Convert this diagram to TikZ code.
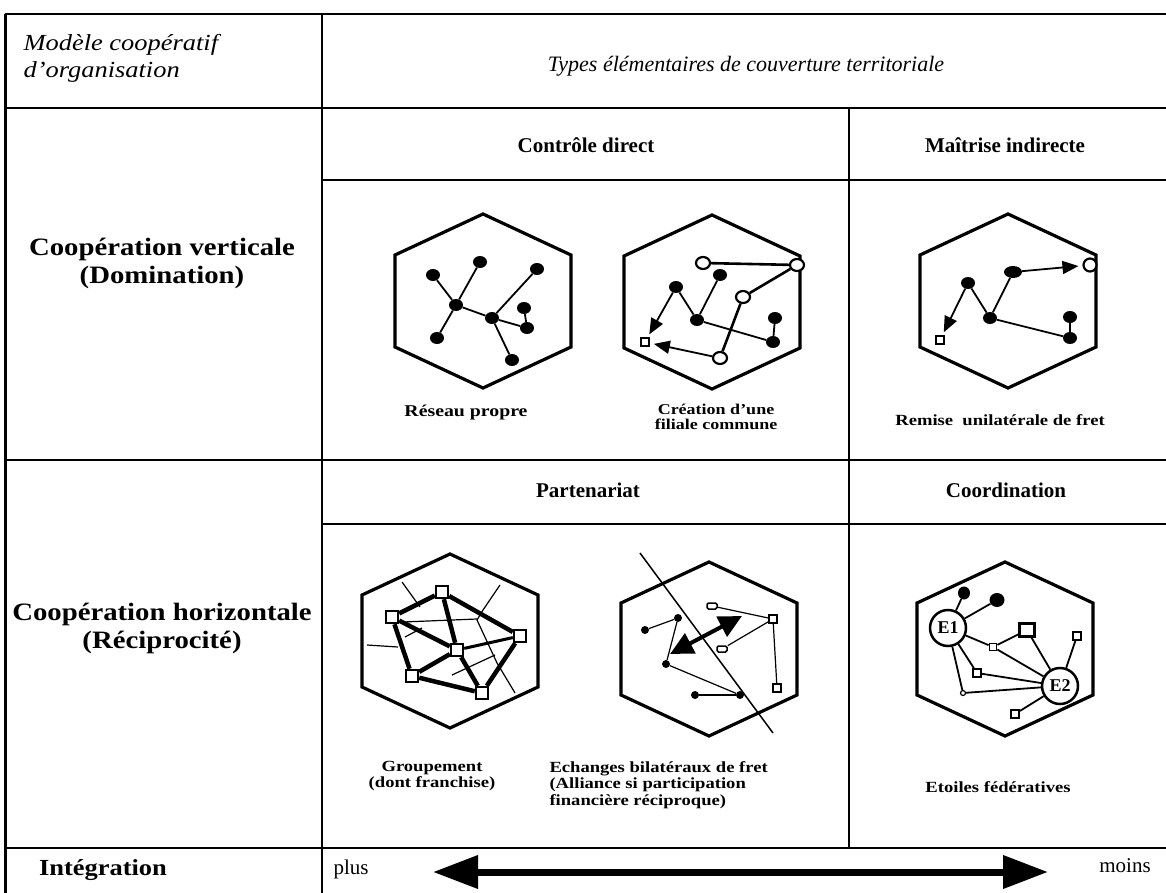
\documentclass[tikz,border=0pt]{standalone}
\usepackage{fontspec}
\setmainfont{Liberation Serif}
\newfontfamily\widefont[FakeStretch=1.15, Ligatures=TeX]{Liberation Serif}
\newfontfamily\labfont[FakeStretch=1.2, Ligatures=TeX]{Liberation Serif}
\usetikzlibrary{shapes.geometric,arrows.meta}
\newcommand\hexat[2]{\draw[hexline] (#1,#2) ++(0,-87) -- ++(88,41) -- ++(0,92) -- ++(-88,41) -- ++(-88,-41) -- ++(0,-92) -- cycle;}
\begin{document}
\begin{tikzpicture}[x=1pt,y=-1pt,
  grid/.style={line width=2pt},
  hexline/.style={line width=3.2pt, line join=miter},
  edge/.style={line width=1.8pt},
  oedge/.style={line width=2.6pt},
  fatedge/.style={line width=4.5pt},
  thinedge/.style={line width=1.2pt},
  dot/.style={ellipse, fill=black, minimum width=14pt, minimum height=12pt, inner sep=0pt},
  sdot/.style={circle, fill=black, minimum size=8pt, inner sep=0pt},
  odot/.style={ellipse, draw, line width=2.2pt, fill=white, minimum width=14pt, minimum height=12pt, inner sep=0pt},
  sqr/.style={rectangle, draw, line width=1.8pt, fill=white, minimum size=8pt, inner sep=0pt},
  msqr/.style={rectangle, draw, line width=2.4pt, fill=white, minimum size=12pt, inner sep=0pt},
  bsqr/.style={rectangle, draw, line width=2.5pt, fill=white, minimum width=15pt, minimum height=13pt, inner sep=0pt},
  orect/.style={rectangle, rounded corners=1.5pt, draw, line width=1.5pt, fill=white, minimum width=10pt, minimum height=6pt, inner sep=0pt},
  ecircle/.style={circle, draw, line width=2.5pt, fill=white, minimum size=36pt, inner sep=0pt, font=\fontsize{18}{18}\selectfont\bfseries},
  arr/.style={edge, -{Triangle[length=16pt,width=13pt]}},
  head/.style={font=\fontsize{21}{25}\selectfont\bfseries},
  rowhead/.style={font=\widefont\fontsize{25}{28}\selectfont\bfseries, align=center},
  ital/.style={font=\fontsize{22}{27}\selectfont\itshape},
  lab/.style={font=\labfont\fontsize{15.5}{16.5}\selectfont\bfseries, align=center},
]
\useasboundingbox (0,0) rectangle (1166,893);
\fill[white] (0,0) rectangle (1166,893);
% grid
\draw[grid] (5,14) -- (1166,14);
\draw[line width=3pt] (5,14) -- (5,893);
\draw[grid] (322,14) -- (322,893);
\draw[grid] (5,108) -- (1166,108);
\draw[grid] (322,180) -- (1166,180);
\draw[grid] (5,460) -- (1166,460);
\draw[grid] (322,524) -- (1166,524);
\draw[grid] (5,848) -- (1166,848);
\draw[grid] (849,108) -- (849,848);
% headers
\node[font=\widefont\fontsize{23}{27}\selectfont\itshape, align=left, anchor=west] (tmod) at (20,58) {Modèle coopératif\\d'organisation};
\node[ital] (ttypes) at (746,66) {Types élémentaires de couverture territoriale};
\node[head] (tcd) at (586,145) {Contrôle direct};
\node[head] (tmi) at (1005,145) {Maîtrise indirecte};
\node[head] (tpa) at (588,490) {Partenariat};
\node[head] (tco) at (1006,490) {Coordination};
\node[rowhead] (tcv) at (162,263) {Coopération verticale\\(Domination)};
\node[rowhead] (tch) at (162,628) {Coopération horizontale\\(Réciprocité)};
\node[rowhead, font=\widefont\fontsize{23}{28}\selectfont\bfseries] (tint) at (103,870) {Intégration};
\node[font=\fontsize{21}{25}\selectfont] (tplus) at (351,869) {plus};
\node[font=\fontsize{21}{25}\selectfont] (tmoins) at (1125,866) {moins};
% bottom arrow
\coordinate (aL) at (433,872);
\coordinate (aR) at (1048,872);
\draw[line width=7pt, {Triangle[length=45pt,width=32pt]}-{Triangle[length=45pt,width=32pt]}] (aL) -- (aR);
% ---------- hex 1: Reseau propre
\hexat{483}{301}
\node[dot] (a1) at (433,275) {};
\node[dot] (b1) at (480,262) {};
\node[dot] (c1) at (537,269) {};
\node[dot] (h1) at (456,305) {};
\node[dot] (h2) at (492,318) {};
\node[dot] (d1) at (524,308) {};
\node[dot] (e1) at (527,328) {};
\node[dot] (f1) at (437,338) {};
\node[dot] (g1) at (512,360) {};
\draw[edge] (a1) -- (h1); \draw[edge] (b1) -- (h1); \draw[edge] (h1) -- (f1);
\draw[edge] (h1) -- (h2); \draw[edge] (h2) -- (c1); \draw[edge] (h2) -- (e1);
\draw[edge] (h2) -- (g1); \draw[edge] (d1) -- (e1);
\node[lab, font=\labfont\fontsize{16.5}{17}\selectfont\bfseries] (l1) at (466,413) {Réseau propre};
% ---------- hex 2: filiale commune
\hexat{712}{302}
\node[odot] (o1) at (703,263) {};
\node[odot] (o2) at (797,265) {};
\node[dot] (f21) at (720,275) {};
\node[dot] (f22) at (676,287) {};
\node[odot] (o3) at (743,297) {};
\node[dot] (h21) at (697,320) {};
\node[dot] (f23) at (775,318) {};
\node[dot] (f24) at (773,342) {};
\node[odot] (o4) at (720,358) {};
\node[sqr] (sq2) at (645,342) {};
\draw[oedge] (o1) -- (o2); \draw[oedge] (o2) -- (o3); \draw[oedge] (o3) -- (o4);
\draw[edge] (f21) -- (h21); \draw[edge] (f22) -- (h21); \draw[edge] (h21) -- (f24);
\draw[edge] (f23) -- (f24);
\draw[arr, shorten >=3pt] (f22) -- (sq2);
\draw[arr, shorten >=4pt] (o4) -- (sq2);
\node[lab, font=\labfont\fontsize{15}{14.5}\selectfont\bfseries] (l2) at (716,417) {Création d'une\\filiale commune};
% ---------- hex 3: remise unilaterale
\hexat{1008}{301}
\node[dot] (a3) at (968,283) {};
\node[dot, minimum width=18pt] (b3) at (1013,272) {};
\node[odot, minimum width=13pt, minimum height=13pt] (c3) at (1090,265) {};
\node[dot] (h3) at (990,318) {};
\node[dot] (d3) at (1070,317) {};
\node[dot] (e3) at (1070,338) {};
\node[sqr] (sq3) at (940,340) {};
\draw[edge] (a3) -- (h3); \draw[edge] (b3) -- (h3); \draw[edge] (h3) -- (e3);
\draw[edge] (d3) -- (e3);
\draw[arr, shorten >=4pt] (b3) -- (c3);
\draw[arr, shorten >=3pt] (a3) -- (sq3);
\node[lab] (l3) at (1000,420) {Remise\ \ unilatérale de fret};
% ---------- hex 4: groupement
\hexat{450}{641}
\draw[thinedge] (402,582) -- (420,607);
\draw[thinedge] (500,585) -- (483,610) -- (477,620) -- (497,663) -- (515,693);
\draw[thinedge] (403,622) -- (477,619);
\draw[thinedge] (367,645) -- (398,647);
\draw[thinedge] (405,637) -- (422,628);
\draw[thinedge] (452,675) -- (495,655);
\node[msqr] (s1) at (442,592) {};
\node[msqr] (s2) at (392,617) {};
\node[msqr] (s3) at (520,636) {};
\node[msqr] (s4) at (457,650) {};
\node[msqr] (s5) at (412,676) {};
\node[msqr] (s6) at (482,693) {};
\draw[fatedge] (s2) -- (s1); \draw[fatedge] (s1) -- (s3); \draw[fatedge] (s1) -- (s4);
\draw[fatedge] (s2) -- (s4); \draw[fatedge] (s2) -- (s5); \draw[fatedge] (s5) -- (s6);
\draw[fatedge] (s5) -- (s4); \draw[fatedge] (s4) -- (s6); \draw[fatedge] (s3) -- (s6);
\draw[line width=3pt] (s4) -- (s3);
\node[lab] (l4) at (432,776) {Groupement\\(dont franchise)};
% ---------- hex 5: echanges bilateraux
\hexat{709}{649}
\coordinate (dA) at (640,553);
\coordinate (dB) at (773,733);
\draw[line width=1.5pt] (dA) -- (dB);
\node[sdot] (p1) at (645,630) {};
\node[sdot] (p2) at (678,618) {};
\node[sdot] (p3) at (666,664) {};
\node[sdot] (p4) at (695,695) {};
\node[sdot] (p5) at (740,695) {};
\node[orect] (r1) at (712,606) {};
\node[sqr] (r2) at (773,619) {};
\node[orect] (r3) at (722,649) {};
\node[sqr] (r4) at (777,688) {};
\draw[thinedge] (p1) -- (p2); \draw[thinedge] (p2) -- (p3); \draw[thinedge] (p3) -- (p5);
\draw[thinedge] (p4) -- (p5); \draw[thinedge] (r1) -- (r2); \draw[thinedge] (r2) -- (r3);
\draw[thinedge] (r2) -- (r4);
\coordinate (xA) at (670,654);
\coordinate (xB) at (742,616);
\draw[line width=4pt, {Triangle[length=23pt,width=22pt]}-{Triangle[length=23pt,width=22pt]}] (xA) -- (xB);
\node[lab, align=left, anchor=north west] (l5) at (546,758) {Echanges bilatéraux de fret\\(Alliance si participation\\financière réciproque)};
% ---------- hex 6: etoiles federatives
\hexat{1005}{649}
\node[dot, minimum width=12pt, minimum height=13pt] (d61) at (964,593) {};
\node[dot, minimum width=15pt, minimum height=14pt] (d62) at (997,600) {};
\node[bsqr] (B6) at (1027,630) {};
\node[sqr, minimum size=7pt] (s61) at (993,647) {};
\node[sqr] (s62) at (1077,636) {};
\node[sqr] (s63) at (977,673) {};
\node[circle, draw, line width=1.2pt, fill=white, minimum size=5pt, inner sep=0pt] (c61) at (963,693) {};
\node[sqr] (s64) at (1015,714) {};
\node[ecircle] (E1) at (948,628) {E1};
\node[ecircle] (E2) at (1060,686) {E2};
\draw[edge] (E1) -- (d61); \draw[edge] (E1) -- (d62); \draw[edge] (E1) -- (s61);
\draw[edge] (s61) -- (B6); \draw[edge] (B6) -- (E2); \draw[edge] (s61) -- (E2);
\draw[edge] (E1) -- (s63); \draw[edge] (s63) -- (E2); \draw[edge] (E1) -- (c61);
\draw[edge] (c61) -- (E2); \draw[edge] (E2) -- (s62); \draw[edge] (E2) -- (s64);
\node[lab] (l6) at (998,787) {Etoiles fédératives};
\end{tikzpicture}
\end{document}
